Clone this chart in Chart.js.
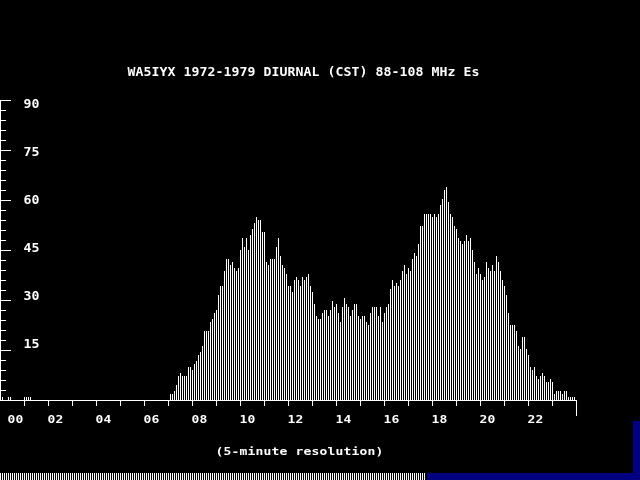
<!DOCTYPE html>
<html><head><meta charset="utf-8">
<script src="https://cdn.jsdelivr.net/npm/chart.js@4/dist/chart.umd.min.js"></script>
<style>
html,body{margin:0;padding:0;background:#000;width:640px;height:480px;overflow:hidden}
#wrap{position:relative;width:640px;height:480px}
canvas{display:block}
#stripes{position:absolute;left:0;top:473px;width:425px;height:7px;background:repeating-linear-gradient(to right,#fff 0,#fff 1px,#000 1px,#000 2px)}
#blueBottom{position:absolute;left:427px;top:473px;width:213px;height:7px;background:#000080}
#blueRight{position:absolute;left:633px;top:421px;width:7px;height:59px;background:#000080}
</style></head><body>
<div id="wrap"><canvas id="c" width="640" height="480"></canvas>
<div id="stripes"></div><div id="blueBottom"></div><div id="blueRight"></div></div>
<script>
// ---- data ----
const titleText = 'WA5IYX 1972-1979 DIURNAL (CST) 88-108 MHz Es';
const xNoteText = '(5-minute resolution)';
const hourTickLabels = ['00','02','04','06','08','10','12','14','16','18','20','22'];
const yTickValues = [15, 30, 45, 60, 75, 90];

// 5-minute slot values, one row per hour
const countsNight = [ // 00h - 05h
  0,0.9,0,0,0.9,0.9,0,0,0,0,0,0,
  0.9,0.9,0.9,0.9,0,0,0,0,0,0,0,0,
  0,0,0,0,0,0,0,0,0,0,0,0,
  0,0,0,0,0,0,0,0,0,0,0,0,
  0,0,0,0,0,0,0,0,0,0,0,0,
  0,0,0,0,0,0,0,0,0,0,0,0
];
const countsMorning = [ // 06h - 11h
  0,0,0,0,0,0,0,0,0,0,0,0,
  0,1.8,1.8,2.7,4.5,7.2,8.1,7.2,7.2,7.2,9.9,9.9,
  9.0,10.8,11.7,13.5,14.4,16.2,20.7,20.7,20.7,23.4,24.3,26.1,
  27.0,31.5,34.2,34.2,38.7,42.3,42.3,40.5,41.4,39.6,38.7,39.6,
  45.0,48.6,45.9,48.6,45.0,49.5,51.3,53.1,54.9,54.0,54.0,50.4,
  50.4,41.4,40.5,42.3,42.3,42.3,45.9,48.6,43.2,40.5,39.6,37.8
];
const countsAfternoon = [ // 12h - 17h
  34.2,34.2,32.4,36.0,36.9,36.0,34.2,36.9,36.0,36.9,37.8,34.2,
  32.4,28.8,25.2,24.3,24.3,26.1,27.0,27.0,25.2,27.0,29.7,27.9,
  28.8,26.1,23.4,27.9,30.6,28.8,27.9,25.2,27.0,28.8,28.8,25.2,
  24.3,25.2,25.2,23.4,22.5,26.1,27.9,27.9,27.9,25.2,27.9,23.4,
  26.1,27.9,28.8,33.3,36.0,34.2,35.1,34.2,36.0,38.7,40.5,37.8,
  39.6,38.7,42.3,44.1,43.2,46.8,52.2,52.2,55.8,55.8,55.8,55.8
];
const countsEvening = [ // 18h - 23h
  54.9,55.8,54.9,55.8,58.5,60.3,63.0,63.9,59.4,55.8,54.9,52.2,
  51.3,48.6,47.7,46.8,47.7,49.5,47.7,48.6,45.0,41.4,37.8,39.6,
  37.8,36.0,36.9,41.4,39.6,38.7,40.5,38.7,43.2,41.4,38.7,36.0,
  34.2,31.5,26.1,22.5,22.5,22.5,20.7,16.2,15.3,18.9,18.9,15.3,
  13.5,9.9,9.0,9.9,7.2,6.3,7.2,8.1,7.2,5.4,5.4,6.3,
  5.4,1.8,2.7,2.7,2.7,1.8,2.7,2.7,0.9,0.9,0.9,0.9
];

const counts = [...countsNight, ...countsMorning, ...countsAfternoon, ...countsEvening];
const slotHours = counts.map((_, i) => i * 5 / 60); // start time of each 5-minute slot, in hours
const Y_MAX = 90;

// ---- drawing helpers ----
function drawMono(ctx, text, left, baseline, font, sx) {
  ctx.font = font;
  ctx.textAlign = 'center';
  ctx.textBaseline = 'alphabetic';
  for (let k = 0; k < text.length; k++) {
    ctx.save();
    ctx.translate(left + 8 * k + 3.5, baseline);
    ctx.scale(sx, 1);
    ctx.fillText(text[k], 0, 0);
    ctx.restore();
  }
}
const FONT_16 = 'bold 12px "DejaVu Sans Mono"';
const FONT_8 = 'bold 10px "DejaVu Sans Mono"';

const dosAxes = {
  id: 'dosAxes',
  afterDatasetsDraw(chart) {
    const { ctx, scales: { x, y } } = chart;
    const col = h => Math.round(x.getPixelForValue(h) - 0.5);
    const row = v => Math.round(y.getPixelForValue(v));
    const x0 = col(0), xEnd = col(24);
    const yTop = row(Y_MAX), yBase = row(0);
    ctx.save();
    ctx.fillStyle = '#fff';
    // axes lines
    ctx.fillRect(x0, yTop, 1, yBase - yTop + 1);
    ctx.fillRect(x0, yBase, xEnd - x0 + 1, 1);
    // y ticks: minor every 3, major every 15
    for (let v = 0; v <= Y_MAX; v += 3) {
      ctx.fillRect(x0, row(v), v % 15 === 0 ? 11 : 6, 1);
    }
    // x ticks hourly
    for (let h = 1; h < 24; h++) ctx.fillRect(col(h), yBase + 1, 1, 5);
    ctx.fillRect(xEnd, yBase, 1, 16);
    // y labels (snapped to 16px text rows)
    yTickValues.forEach(v => {
      const base = Math.floor(row(v) / 16) * 16 + 12;
      drawMono(ctx, String(v), x0 + 24, base, FONT_16, 1.1);
    });
    // x labels every 2 hours, left-aligned at tick
    hourTickLabels.forEach((lab, k) => {
      const left = Math.max(col(k * 2), 8);
      drawMono(ctx, lab, left, 423, FONT_8, 1.3);
    });
    // title & note
    drawMono(ctx, titleText, 128, 76, FONT_16, 1.1);
    drawMono(ctx, xNoteText, 216, 455, FONT_8, 1.3);
    ctx.restore();
  }
};

new Chart(document.getElementById('c'), {
  type: 'bar',
  data: {
    datasets: [{
      data: counts.map((v, i) => ({ x: slotHours[i], y: v })),
      backgroundColor: '#ffffff',
      borderWidth: 0,
      barThickness: 1,
      inflateAmount: 0
    }]
  },
  options: {
    responsive: false,
    animation: false,
    devicePixelRatio: 1,
    layout: { padding: { left: 0, right: 64, top: 100, bottom: 80 } },
    scales: {
      x: { type: 'linear', min: -1 / 48, max: 24 - 1 / 48, offset: false, display: false },
      y: { min: 0, max: Y_MAX, display: false }
    },
    plugins: { legend: { display: false }, tooltip: { enabled: false }, title: { display: false } }
  },
  plugins: [dosAxes]
});
</script>
</body></html>
